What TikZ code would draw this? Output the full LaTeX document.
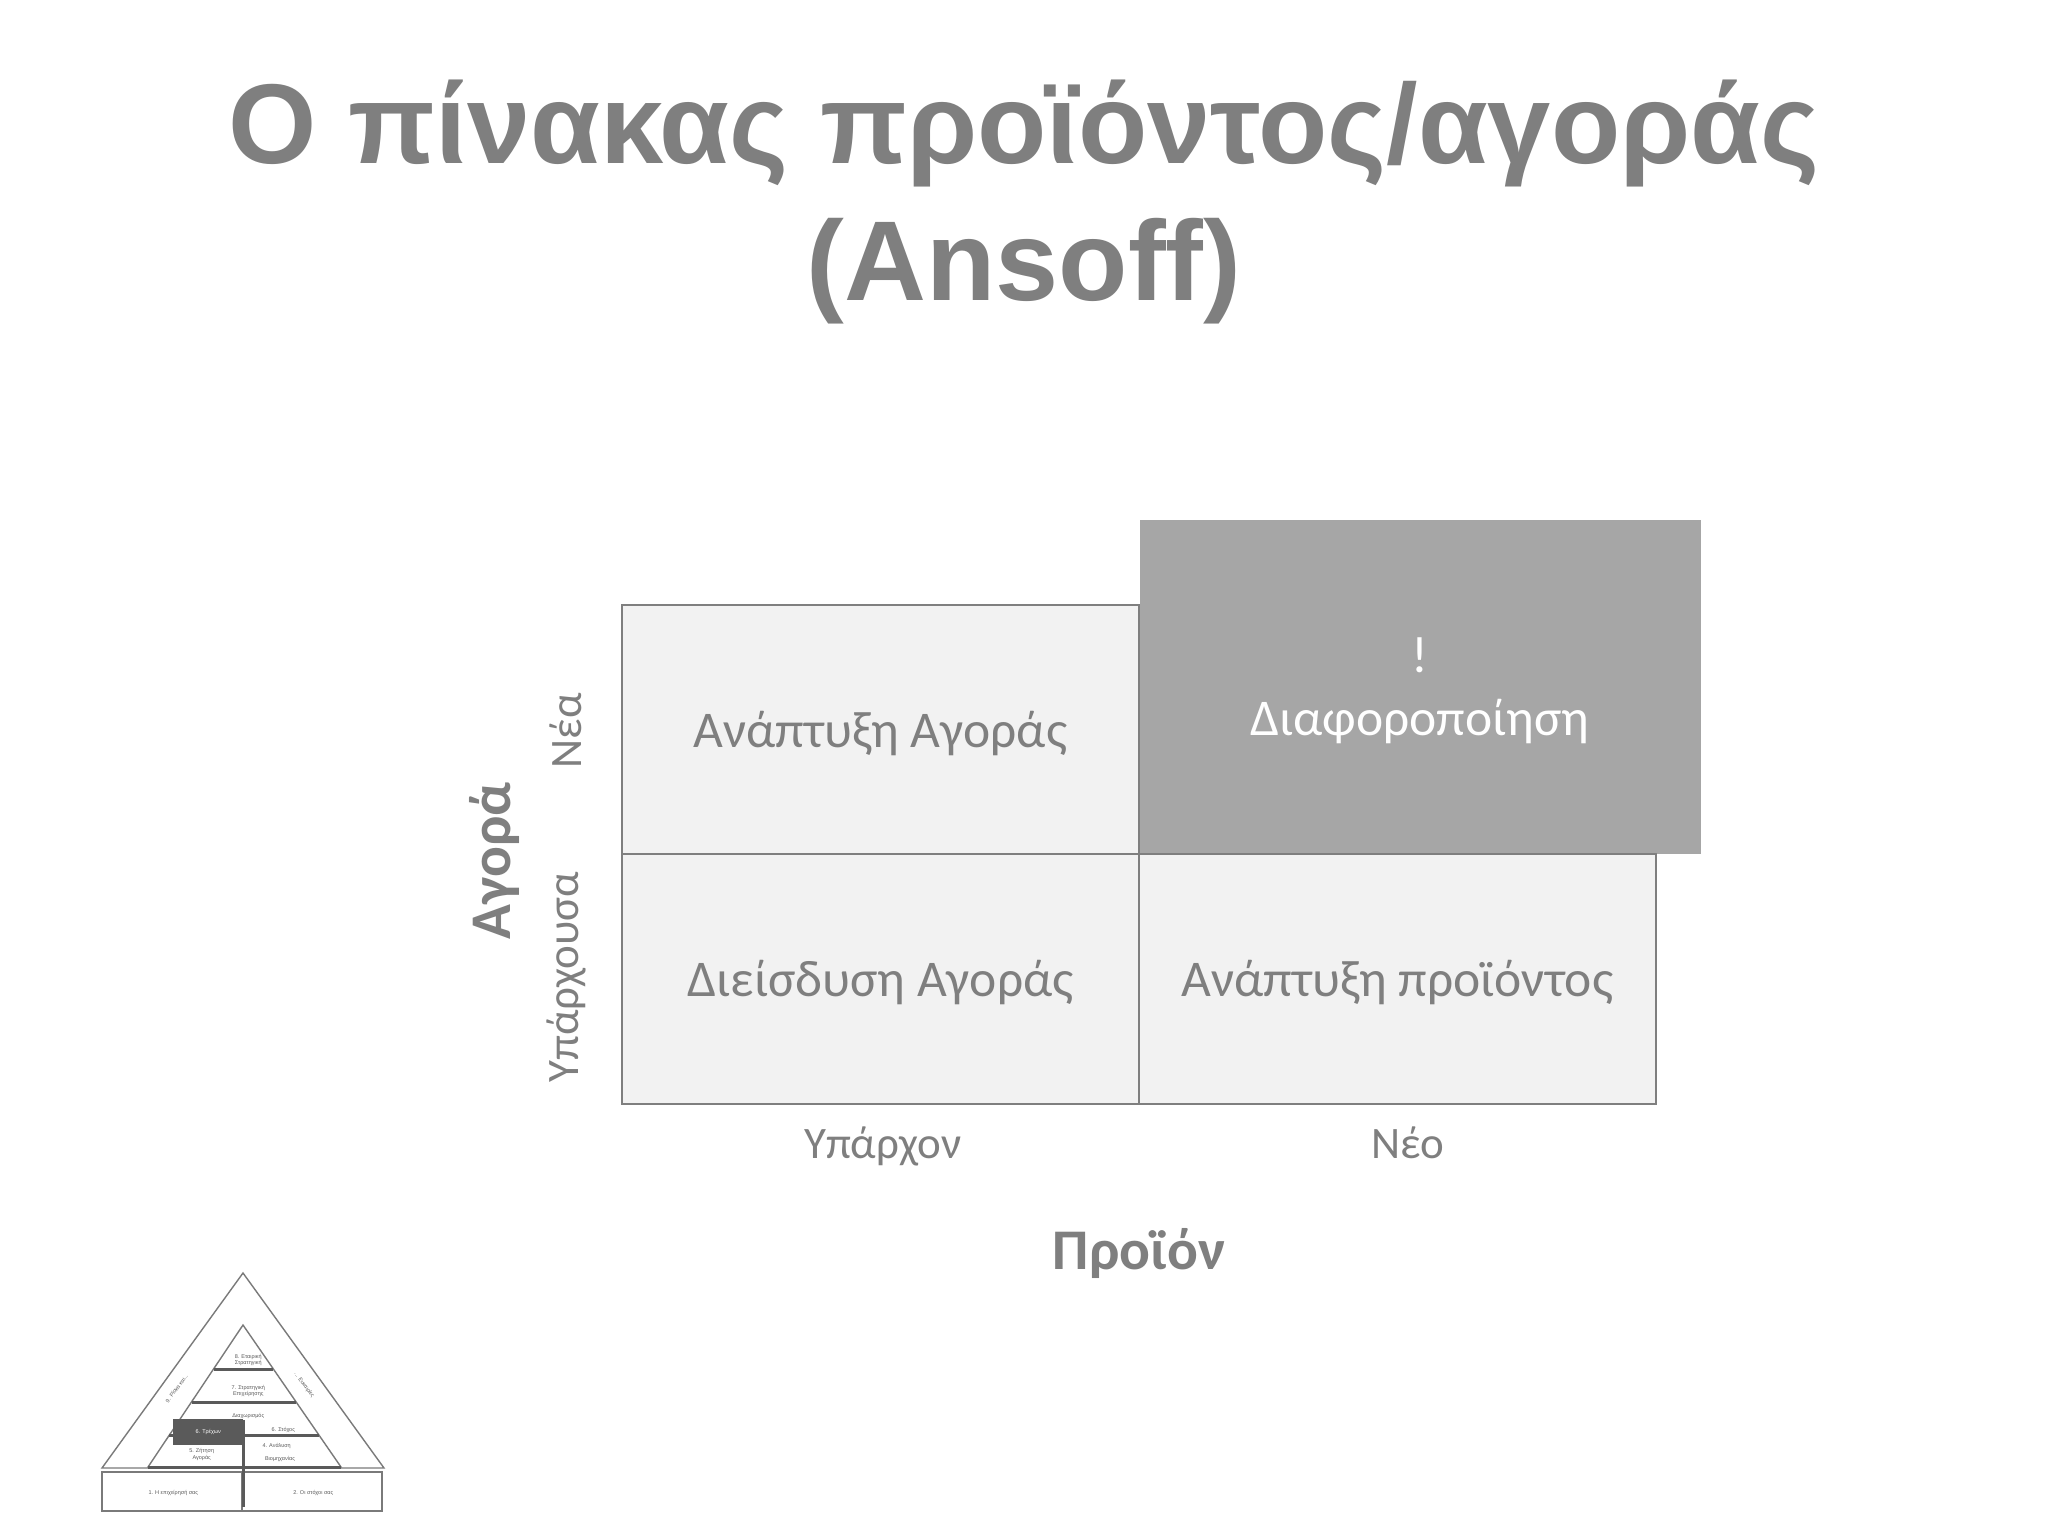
\documentclass[tikz,border=0pt]{standalone}
\usepackage{fontspec}
\setmainfont{Carlito}
\newfontfamily\titlefont{Liberation Sans}
\definecolor{txtgray}{HTML}{7F7F7F}
\definecolor{cellfill}{HTML}{F2F2F2}
\definecolor{cellline}{HTML}{7F7F7F}
\definecolor{darkfill}{HTML}{A6A6A6}
\definecolor{pyrline}{HTML}{7A7A7A}
\definecolor{pyrbar}{HTML}{5A5A5A}
\tikzset{
  titletxt/.style={text=txtgray, font=\titlefont\bfseries\fontsize{113.5}{133}\selectfont, anchor=base, inner sep=0pt},
  cell/.style={draw=cellline, line width=1.5pt, fill=cellfill, inner sep=0pt, text depth=1pt,
    text=txtgray, font=\fontsize{51.5}{60}\selectfont},
  axislab/.style={text=txtgray, font=\fontsize{45}{52}\selectfont, inner sep=0pt},
  axistitle/.style={text=txtgray, font=\fontsize{57.5}{66}\selectfont\bfseries, inner sep=0pt},
  tiny/.style={text=pyrbar, font=\titlefont\fontsize{5.5}{6.5}\selectfont, inner sep=0pt, align=center},
  pline/.style={draw=pyrline, line width=1.4pt},
  pbar/.style={draw=pyrbar, line width=3pt},
}
\begin{document}
\begin{tikzpicture}[x=1pt,y=-1pt]
\useasboundingbox (0,0) rectangle (2048,1536);
\fill[white] (0,0) rectangle (2048,1536);
% title
\node[titletxt] (title1) at (1024,164) {Ο πίνακας προϊόντος/αγοράς};
\node[titletxt] (title2) at (1024,300) {(Ansoff)};
% dark box
\node[fill=darkfill, minimum width=561pt, minimum height=334pt, inner sep=0pt] (div) at (1420,687) {};
% cells
\node[cell, minimum width=517pt, minimum height=249pt] (md) at (880.5,729.5) {Ανάπτυξη Αγοράς};
\node[cell, minimum width=517pt, minimum height=250pt] (mp) at (880.5,979) {Διείσδυση Αγοράς};
\node[cell, minimum width=517pt, minimum height=250pt] (pd) at (1397.5,979) {Ανάπτυξη προϊόντος};
\node[text=white, font=\fontsize{51.5}{60}\selectfont, anchor=base] (excl) at (1420,672) {!};
\node[text=white, font=\fontsize{51.5}{60}\selectfont, anchor=base] (divtxt) at (1420,735) {Διαφοροποίηση};
% axis labels
\node[axislab, rotate=90] (nea) at (566,731) {Νέα};
\node[axislab, rotate=90] (yparx) at (566,977) {Υπάρχουσα};
\node[axistitle, rotate=90] (agora) at (494,861) {Αγορά};
\node[axislab, anchor=base] (yparxon) at (883,1158) {Υπάρχον};
\node[axislab, anchor=base] (neo) at (1408,1158) {Νέο};
\node[axistitle] (proion) at (1139,1253) {Προϊόν};
% pyramid
\draw[pline] (243,1273) -- (102,1468) -- (384,1468) -- cycle;
\draw[pline] (243,1325) -- (148,1467) -- (341,1467) -- cycle;
\draw[pline] (102,1472) rectangle (382,1511);
\draw[pline] (242,1472) -- (242,1511);
\draw[pbar] (213.6,1369) -- (273.4,1369);
\draw[pbar] (191.5,1402) -- (296,1402);
\draw[pbar] (245,1435) -- (318.9,1435);
\draw[pbar] (169.4,1435) -- (174,1435);
\draw[pbar] (148,1467) -- (341,1467);
\draw[pbar] (243.7,1420) -- (243.7,1507);
\node[fill=pyrbar, minimum width=70pt, minimum height=26pt, inner sep=0pt, text=white, font=\titlefont\fontsize{5.5}{6.5}\selectfont] (trex) at (208.3,1432) {6. Τρέχων};
\node[tiny] (p8) at (248.3,1360) {8. Εταιρική\\Στρατηγική};
\node[tiny] (p7) at (248.3,1391) {7. Στρατηγική\\Επιχείρησης};
\node[tiny] (pdx) at (248.3,1415.7) {Διαχωρισμός};
\node[tiny] (p6) at (283.3,1430) {6. Στόχος};
\node[tiny] (p5) at (201.7,1454.5) {5. Ζήτηση\\Αγοράς};
\node[tiny] (p4) at (276.7,1446) {4. Ανάλυση};
\node[tiny] (p4b) at (280,1459.3) {Βιομηχανίας};
\node[tiny, rotate=54] (p9) at (176.7,1388.3) {9. Ρίσκα και...};
\node[tiny, rotate=-54] (p9b) at (304.3,1385) {... Ευκαιρίες};
\node[tiny] (p1) at (173.3,1493.3) {1. Η επιχείρησή σας};
\node[tiny] (p2) at (313.3,1493.3) {2. Οι στόχοι σας};
\end{tikzpicture}
\end{document}
